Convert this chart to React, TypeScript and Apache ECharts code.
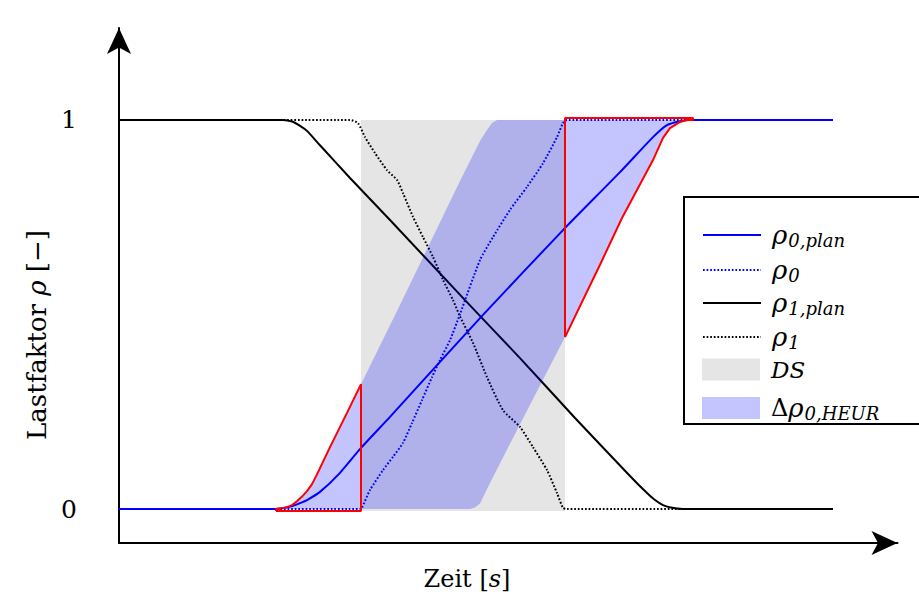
import React, { useEffect, useRef } from "react";
import * as echarts from "echarts";

// ---- data (x: time in arbitrary units, y: load factor) ----
const yTickValues = [0, 1];
const dsStart = 24.2;
const dsEnd = 44.6;

const rho0Plan: number[][] = [
  [-0.8, 0], [15.7, 0], [16.6, 0.003], [17.4, 0.008], [18.1, 0.015], [18.8, 0.023],
  [20.1, 0.044], [22.1, 0.093], [24.2, 0.157], [27.1, 0.237], [31.1, 0.35], [36.4, 0.499],
  [44.4, 0.717], [50.1, 0.866], [53.4, 0.956], [54.8, 0.987], [56.1, 0.997], [57.1, 1], [71.4, 1],
];
const rho0: number[][] = [
  [-0.8, 0], [24.2, 0], [24.3, 0.003], [25.1, 0.049], [26.4, 0.1], [27.4, 0.134], [28.4, 0.17],
  [29.3, 0.221], [30.3, 0.28], [31.3, 0.339], [32.1, 0.383], [33.1, 0.434], [34.1, 0.501],
  [36.1, 0.64], [37.4, 0.699], [39.1, 0.769], [40.8, 0.828], [42.4, 0.889], [43.8, 0.956],
  [44.4, 0.992], [44.8, 1], [71.4, 1],
];
const rho1Plan: number[][] = [
  [-1.2, 1], [16.4, 1], [17.3, 0.996], [18.1, 0.985], [18.8, 0.972], [20.1, 0.935], [23.1, 0.851],
  [27.1, 0.743], [34.6, 0.537], [40.1, 0.388], [45.6, 0.234], [51.1, 0.085], [52.8, 0.041],
  [53.6, 0.023], [54.4, 0.01], [55.3, 0.003], [56.4, 0], [71.4, 0],
];
const rho1: number[][] = [
  [-1.2, 1], [23.1, 1], [23.9, 0.992], [24.6, 0.956], [25.6, 0.915], [26.8, 0.871], [27.8, 0.846],
  [28.4, 0.812], [29.4, 0.751], [30.4, 0.699], [31.4, 0.648], [32.4, 0.589], [33.4, 0.537],
  [34.1, 0.495], [35.4, 0.427], [36.8, 0.339], [38.4, 0.254], [40.1, 0.211], [41.4, 0.159],
  [42.8, 0.1], [43.8, 0.041], [44.4, 0.003], [44.8, 0], [71.4, 0],
];
const heurUpper: number[][] = [
  [15.7, 0], [16.6, 0.003], [17.3, 0.01], [17.8, 0.02], [18.3, 0.032], [18.8, 0.046], [19.3, 0.064],
  [19.8, 0.089], [21.1, 0.159], [22.8, 0.247], [24.2, 0.321], [27.8, 0.509], [34.1, 0.843],
  [36.1, 0.946], [36.8, 0.974], [37.3, 0.992], [37.8, 1], [57.4, 1],
];
const heurLower: number[][] = [
  [15.7, 0], [35.1, 0], [35.6, 0.004], [36.1, 0.014], [37.1, 0.067], [40.1, 0.218], [44.6, 0.442],
  [48.1, 0.628], [50.3, 0.748], [53.4, 0.897], [54.4, 0.954], [55.1, 0.979], [56.1, 0.995],
  [56.8, 1], [57.4, 1],
];

const legendNames = ["ρ0,plan", "ρ0", "ρ1,plan", "ρ1", "DS", "Δρ0,HEUR"];
const legendLabels: Record<string, string> = {
  "ρ0,plan": "{g|ρ}{s|0,plan}",
  "ρ0": "{g|ρ}{s|0}",
  "ρ1,plan": "{g|ρ}{s|1,plan}",
  "ρ1": "{g|ρ}{s|1}",
  "DS": "{t|DS}",
  "Δρ0,HEUR": "{d|Δ}{h|ρ}{s|0,HEUR}",
};

const SERIF = "'DejaVu Serif', 'Liberation Serif', serif";
const HEUR_FILL = "rgba(0,0,255,0.23)";
const DS_FILL = "#e5e5e5";
const DOT = [1.7, 1.9];
const DOT_W = 2;

export default function App() {
  const ref = useRef<HTMLDivElement>(null);
  useEffect(() => {
    const chart = echarts.init(ref.current!, null, { renderer: "svg" });

    const bottom = -0.005;
    const top = 1.005;
    const redLeft = [
      [heurUpper[0][0], bottom],
      ...heurUpper.filter((p) => p[0] <= dsStart),
      [dsStart, bottom],
      [heurUpper[0][0], bottom],
    ];
    const lowerRight = heurLower.filter((p) => p[0] >= dsEnd);
    const last = heurLower[heurLower.length - 1][0];
    const redRight = [
      lowerRight[0].slice(),
      [dsEnd, top],
      [last, top],
      ...lowerRight.slice().reverse(),
    ];

    const lineBase = {
      type: "line",
      showSymbol: false,
      symbol: "none",
      clip: false,
      smooth: 0.2,
    };

    const legendItemStyle: Record<string, any> = {
      "ρ0,plan": { itemStyle: { opacity: 0 }, lineStyle: { color: "#0000ff", width: 2, type: "solid" } },
      "ρ0": { itemStyle: { opacity: 0 }, lineStyle: { color: "#0000ff", width: DOT_W, type: DOT } },
      "ρ1,plan": { itemStyle: { opacity: 0 }, lineStyle: { color: "#000", width: 2, type: "solid" } },
      "ρ1": { itemStyle: { opacity: 0 }, lineStyle: { color: "#000", width: DOT_W, type: DOT } },
      "DS": { icon: "rect", itemStyle: { color: DS_FILL } },
      "Δρ0,HEUR": { icon: "rect", itemStyle: { color: HEUR_FILL } },
    };
    const rowCenters = [232, 267, 300, 334, 369, 405];

    const legends = legendNames.map((name, i) => ({
      orient: "vertical",
      left: 702,
      top: rowCenters[i] - 11,
      padding: 0,
      itemWidth: 58,
      itemHeight: 22,
      z: 10,
      selectedMode: false,
      formatter: (n: string) => legendLabels[n] ?? n,
      textStyle: {
        color: "#000",
        fontFamily: SERIF,
        fontSize: 24,
        rich: {
          g: { fontFamily: SERIF, fontStyle: "italic", fontSize: 26, lineHeight: 22, padding: [0, 0, 0, 6] },
          h: { fontFamily: SERIF, fontStyle: "italic", fontSize: 26, lineHeight: 22 },
          s: { fontFamily: SERIF, fontStyle: "italic", fontSize: 18, lineHeight: 12, padding: [10, 0, 0, 1] },
          d: { fontFamily: SERIF, fontSize: 24, lineHeight: 22, padding: [0, 0, 0, 6] },
          t: { fontFamily: SERIF, fontStyle: "italic", fontSize: 23, lineHeight: 22, padding: [0, 0, 0, 6] },
        },
      },
      data: [{ name, ...legendItemStyle[name] }],
    }));

    chart.setOption({
      animation: false,
      backgroundColor: "#fff",
      grid: { left: 119, right: 21.5, top: 28, bottom: 53, containLabel: false },
      xAxis: {
        type: "value",
        min: 0,
        max: 77.85,
        axisLine: {
          show: true,
          onZero: false,
          symbol: ["none", "arrow"],
          symbolSize: [18, 26],
          lineStyle: { color: "#000", width: 2 },
        },
        axisTick: { show: false },
        axisLabel: { show: false },
        splitLine: { show: false },
      },
      yAxis: {
        type: "value",
        min: -0.0874,
        max: 1.2365,
        axisLine: {
          show: true,
          onZero: false,
          symbol: ["none", "arrow"],
          symbolSize: [18, 26],
          lineStyle: { color: "#000", width: 2 },
        },
        axisTick: { show: false },
        axisLabel: {
          show: true,
          customValues: yTickValues,
          formatter: (v: number) => String(v),
          margin: 42,
          fontFamily: SERIF,
          fontSize: 25,
          color: "#000",
        },
        splitLine: { show: false },
      },
      legend: legends,
      graphic: [
        {
          type: "rect",
          z: 3,
          shape: { x: 684, y: 197, width: 260, height: 227 },
          style: { fill: "#fff", stroke: "#000", lineWidth: 2 },
        },
        {
          type: "text",
          x: 37,
          y: 335,
          rotation: Math.PI / 2,
          style: {
            text: "{n|Lastfaktor }{i|ρ}{n| [−]}",
            align: "center",
            verticalAlign: "middle",
            fill: "#000",
            rich: {
              n: { fontFamily: SERIF, fontSize: 26, fill: "#000" },
              i: { fontFamily: SERIF, fontStyle: "italic", fontSize: 26, fill: "#000" },
            },
          },
        },
        {
          type: "text",
          x: 467,
          y: 579,
          style: {
            text: "{n|Zeit [}{i|s}{n|]}",
            align: "center",
            verticalAlign: "middle",
            fill: "#000",
            rich: {
              n: { fontFamily: SERIF, fontSize: 24, fill: "#000" },
              i: { fontFamily: SERIF, fontStyle: "italic", fontSize: 24, fill: "#000" },
            },
          },
        },
      ],
      series: [
        {
          name: "DS",
          type: "custom",
          z: 1,
          itemStyle: { color: DS_FILL },
          encode: { x: [0, 1], y: [2, 3] },
          data: [[dsStart, dsEnd, -0.005, 1]],
          renderItem: (params: any, api: any) => {
            const p0 = api.coord([api.value(0), api.value(3)]);
            const p1 = api.coord([api.value(1), api.value(2)]);
            return {
              type: "rect",
              shape: { x: p0[0], y: p0[1], width: p1[0] - p0[0], height: p1[1] - p0[1] },
              style: { fill: DS_FILL },
            };
          },
        },
        {
          ...lineBase,
          name: "ρ1,plan",
          z: 2,
          data: rho1Plan,
          itemStyle: { color: "#000" },
          lineStyle: { color: "#000", width: 2 },
        },
        {
          ...lineBase,
          name: "ρ1",
          z: 2,
          data: rho1,
          itemStyle: { color: "#000" },
          lineStyle: { color: "#000", width: DOT_W, type: DOT },
        },
        {
          name: "Δρ0,HEUR",
          type: "custom",
          z: 3,
          itemStyle: { color: HEUR_FILL },
          data: [[heurUpper[0][0], heurUpper[0][1]]],
          renderItem: (params: any, api: any) => {
            const pts = [
              ...heurUpper.map((p) => api.coord(p)),
              ...heurLower.slice().reverse().map((p) => api.coord(p)),
            ];
            return { type: "polygon", shape: { points: pts }, style: { fill: HEUR_FILL } };
          },
        },
        {
          ...lineBase,
          name: "ρ0,plan",
          z: 4,
          data: rho0Plan,
          itemStyle: { color: "#0000ff" },
          lineStyle: { color: "#0000ff", width: 2 },
        },
        {
          ...lineBase,
          name: "ρ0",
          z: 4,
          data: rho0,
          itemStyle: { color: "#0000ff" },
          lineStyle: { color: "#0000ff", width: DOT_W, type: DOT },
        },
        {
          type: "line",
          name: "redLeft",
          z: 5,
          showSymbol: false,
          symbol: "none",
          clip: false,
          smooth: false,
          data: redLeft,
          lineStyle: { color: "#ff0000", width: 2 },
          itemStyle: { color: "#ff0000" },
        },
        {
          type: "line",
          name: "redRight",
          z: 5,
          showSymbol: false,
          symbol: "none",
          clip: false,
          smooth: false,
          data: redRight,
          lineStyle: { color: "#ff0000", width: 2 },
          itemStyle: { color: "#ff0000" },
        },
      ],
    });
    return () => chart.dispose();
  }, []);
  return (
    <div
      ref={ref}
      style={{ position: "fixed", left: 0, top: 0, width: 919, height: 596 }}
    />
  );
}
